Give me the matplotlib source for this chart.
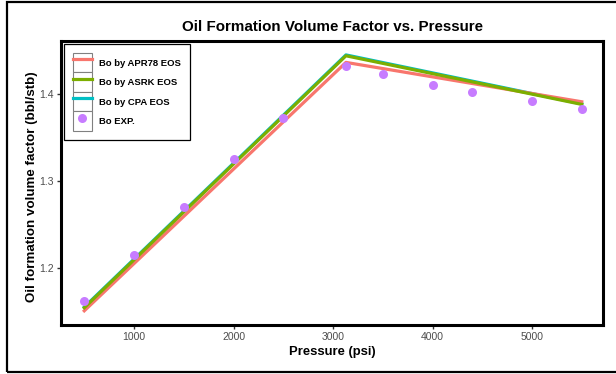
import matplotlib
matplotlib.use("Agg")
import matplotlib.pyplot as plt
from matplotlib.legend_handler import HandlerLine2D
from matplotlib.lines import Line2D
from matplotlib.patches import Rectangle

plt.rcParams["font.family"] = ["Liberation Sans", "DejaVu Sans"]

# 实验数据
p_exp = [500, 1000, 1500, 2000, 2500, 3130, 3500, 4000, 4400, 5000, 5500]
bo_exp = [1.162, 1.215, 1.271, 1.325, 1.3725, 1.432, 1.4226, 1.411, 1.402, 1.392, 1.383]

# EOS 计算结果（泡点前后为直线段）
p_eos = [500, 3130, 5500]
bo_apr78 = [1.1513, 1.4364, 1.3912]
bo_asrk = [1.1548, 1.4440, 1.3882]
bo_cpa = [1.1556, 1.4450, 1.3888]

x_ticks = [1000, 2000, 3000, 4000, 5000]
y_ticks = [1.2, 1.3, 1.4]

C_APR = "#F8766D"
C_ASRK = "#7CAE00"
C_CPA = "#00BFC4"
C_EXP = "#C77CFF"


class BoxedLine(HandlerLine2D):
    """ggplot 风格的图例键：灰色小框 + 线/点。"""

    def create_artists(self, legend, orig_handle, xdescent, ydescent,
                       width, height, fontsize, trans):
        arts = super().create_artists(legend, orig_handle, xdescent, ydescent,
                                      width, height, fontsize, trans)
        box = Rectangle((-xdescent, -ydescent), width, height,
                        facecolor="white", edgecolor="#808080", lw=0.8,
                        transform=trans)
        return [box] + list(arts)


fig = plt.figure(figsize=(6.16, 3.74), dpi=100)
ax = fig.add_axes([0.099, 0.131, 0.880, 0.759])

l_cpa, = ax.plot(p_eos, bo_cpa, color=C_CPA, lw=2.3, label="Bo by CPA EOS")
l_apr, = ax.plot(p_eos, bo_apr78, color=C_APR, lw=2.3, label="Bo by APR78 EOS")
l_asrk, = ax.plot(p_eos, bo_asrk, color=C_ASRK, lw=2.3, label="Bo by ASRK EOS")
l_exp, = ax.plot(p_exp, bo_exp, "o", color=C_EXP, ms=6.5, mec="none", label="Bo EXP.")

ax.set_xlim(266, 5714)
ax.set_ylim(1.135, 1.4608)
ax.set_xticks(x_ticks)
ax.set_yticks(y_ticks)
ax.tick_params(labelsize=7.5, labelcolor="#4D4D4D", length=3, width=1,
               color="#333333", pad=2)
for s in ax.spines.values():
    s.set_linewidth(2.2)
    s.set_color("black")

ax.set_title("Oil Formation Volume Factor vs. Pressure", fontsize=10.9,
             fontweight="bold", pad=7)
ax.set_xlabel("Pressure (psi)", fontsize=9.4, fontweight="bold", labelpad=3)
ax.set_ylabel("Oil formation volume factor (bbl/stb)", fontsize=9.6,
              fontweight="bold")
ax.yaxis.set_label_coords(-0.043, 0.489)

leg = ax.legend([l_apr, l_asrk, l_cpa, l_exp],
                ["Bo by APR78 EOS", "Bo by ASRK EOS", "Bo by CPA EOS", "Bo EXP."],
                loc="upper left", bbox_to_anchor=(0.0055, 0.989), borderaxespad=0,
                prop={"weight": "bold", "size": 6.8},
                handler_map={Line2D: BoxedLine()}, numpoints=1,
                handlelength=2.08, handleheight=2.8, labelspacing=0,
                borderpad=0.92, handletextpad=0.74, fancybox=False, framealpha=1)
leg.get_frame().set_edgecolor("black")
leg.get_frame().set_linewidth(0.9)

# 外框
fig.patches.append(Rectangle((7 / 616, 2 / 374), 1.0, 1 - 3.5 / 374,
                             transform=fig.transFigure, fill=False,
                             lw=1.6, ec="black"))

fig.savefig("out.png", dpi=100)
